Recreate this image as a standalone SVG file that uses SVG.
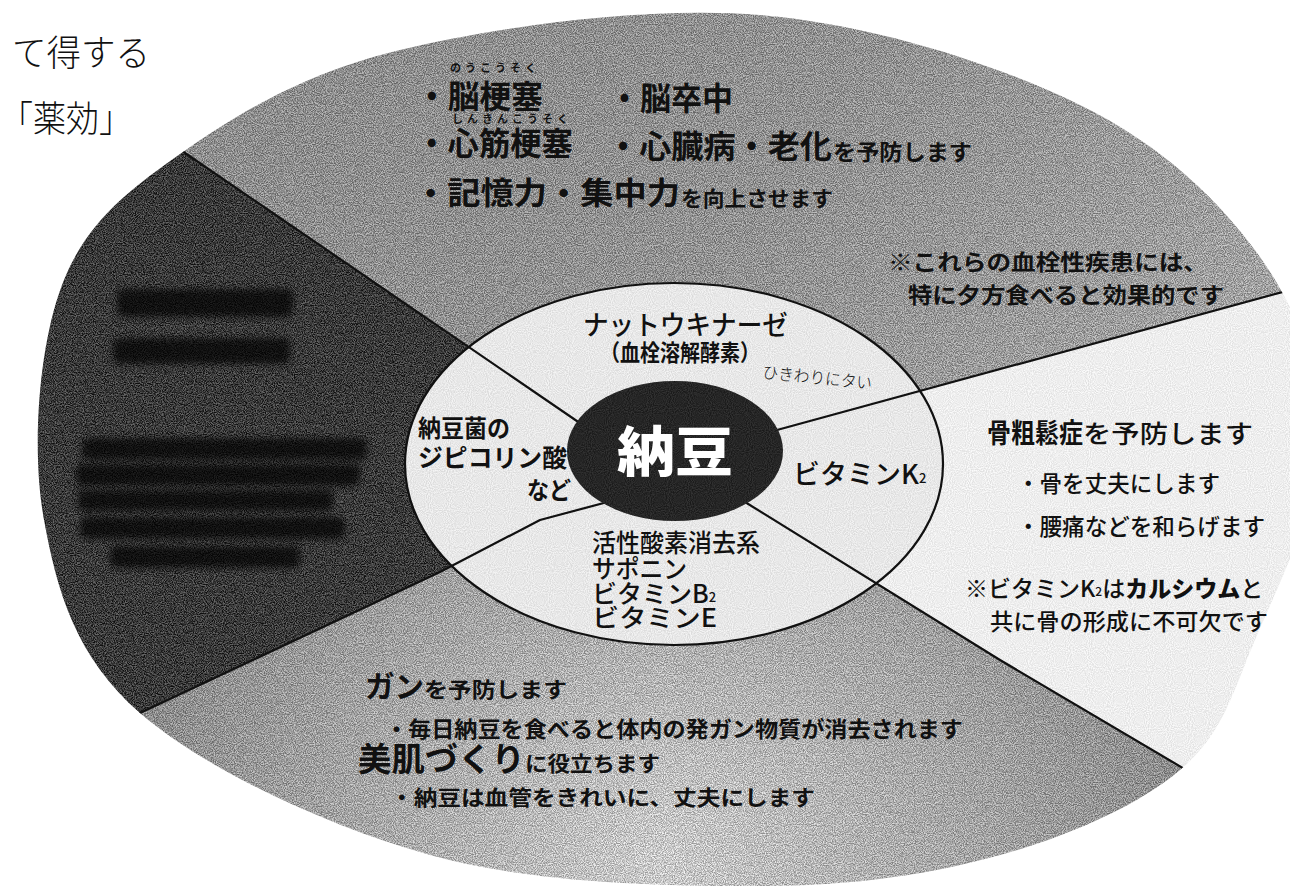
<svg xmlns="http://www.w3.org/2000/svg" width="1290" height="894" viewBox="0 0 1290 894">
<style>
text{font-family:"Noto Sans CJK JP","Noto Sans CJK SC",sans-serif;}
.tb{font-weight:700;fill:#111;}
.tm{font-weight:500;fill:#111;}
.furi{font-weight:700;fill:#111;font-size:11px;letter-spacing:4px;}
.hand{font-weight:300;fill:#111;}
.line{fill:none;stroke:#111;stroke-width:2.2;stroke-linejoin:round;}
.blob{fill:#000;opacity:0.7;filter:url(#soft);}
</style>
<defs>
<path id="outerShape" d="M183,152 C239.3,112.8 303.8,73.3 400,50 C496.2,26.7 646.7,5.8 760,15 C873.3,24.2 996.7,64.2 1080,105 C1163.3,145.8 1220,201.2 1260,257 C1300,312.8 1320.8,376.2 1320,440 C1319.2,503.8 1278.3,585 1255,640 C1231.7,695 1222.5,734.2 1180,770 C1137.5,805.8 1070,835.7 1000,855 C930,874.3 855,886 760,886 C665,886 533.3,883.8 430,855 C326.7,826.2 204.3,768.8 140,713 C75.7,657.2 57,591.3 44,520 C31,448.7 38.8,346.3 62,285 C85.2,223.7 126.7,191.2 183,152 Z"/>
<clipPath id="outer"><use href="#outerShape"/></clipPath>
<filter id="grainS" filterUnits="userSpaceOnUse" x="0" y="0" width="1290" height="894" color-interpolation-filters="sRGB">
<feTurbulence type="fractalNoise" baseFrequency="0.9" numOctaves="2" seed="7" result="n"/>
<feColorMatrix in="n" type="matrix" values="2.5 0 0 0 -0.75 2.5 0 0 0 -0.75 2.5 0 0 0 -0.75 0 0 0 0 0.35" result="g"/>
<feComposite in="g" in2="SourceGraphic" operator="in" result="gm"/>
<feMerge><feMergeNode in="SourceGraphic"/><feMergeNode in="gm"/></feMerge>
</filter>
<filter id="grainL" filterUnits="userSpaceOnUse" x="0" y="0" width="1290" height="894" color-interpolation-filters="sRGB">
<feTurbulence type="fractalNoise" baseFrequency="0.95" numOctaves="1" seed="3" result="n"/>
<feColorMatrix in="n" type="matrix" values="2.5 0 0 0 -0.75 2.5 0 0 0 -0.75 2.5 0 0 0 -0.75 0 0 0 0 0.1" result="g"/>
<feComposite in="g" in2="SourceGraphic" operator="in" result="gm"/>
<feMerge><feMergeNode in="SourceGraphic"/><feMergeNode in="gm"/></feMerge>
</filter>
<filter id="soft" x="-20%" y="-50%" width="140%" height="200%"><feGaussianBlur stdDeviation="3.5"/></filter>
<linearGradient id="gTop" x1="0" y1="0" x2="1" y2="0.3">
<stop offset="0" stop-color="#929292"/><stop offset="0.6" stop-color="#9c9c9c"/><stop offset="1" stop-color="#b4b4b4"/>
</linearGradient>
<radialGradient id="gBot" cx="660" cy="860" r="520" gradientUnits="userSpaceOnUse">
<stop offset="0" stop-color="#f2f2f2"/><stop offset="0.45" stop-color="#c6c6c6"/><stop offset="1" stop-color="#959595"/>
</radialGradient>
</defs>
<rect width="1290" height="894" fill="#fff"/>

<g id="sections" clip-path="url(#outer)">
<g filter="url(#grainS)">
<polygon id="sec-top" fill="url(#gTop)" points="675,451 590,430 150,129 100,95 100,-60 1420,-60 1420,255 1400,260 1290,290 777,430 760,435"/>
<polygon id="sec-left" fill="#151515" points="675,451 590,430 150,129 100,95 -60,-14 -60,840 0,780 140,713 440,572 540,520 615,500"/>
<polygon id="sec-bottom" fill="url(#gBot)" points="675,451 615,500 540,520 440,572 140,713 0,780 -60,840 -60,950 1420,950 1420,912 1400,900 1220,790 1000,660 745,502"/>
</g>
<polygon id="sec-right" filter="url(#grainL)" fill="#fbfbfb" points="675,451 745,502 1000,660 1220,790 1400,900 1420,912 1420,255 1400,260 1290,290 777,430 760,435"/>
</g>

<g id="ring">
<ellipse cx="674" cy="464" rx="269" ry="181" fill="#f4f4f4" filter="url(#grainL)"/>
<ellipse cx="674" cy="464" rx="269" ry="181" fill="none" stroke="#111" stroke-width="2.2"/>
</g>

<g id="connectors" clip-path="url(#outer)">
<polyline class="line" points="100,95 150,129 590,430"/>
<polyline class="line" points="760,435 777,430 1290,290 1400,260"/>
<polyline class="line" points="745,502 1000,660 1220,790 1400,900"/>
<polyline class="line" points="615,500 540,520 440,572 140,713 0,780"/>
</g>

<g id="node-center">
<ellipse cx="675" cy="451" rx="108" ry="70" fill="#1c1c1c" filter="url(#grainL)"/>
<text x="675" y="472" font-size="54" font-weight="900" fill="#fff" text-anchor="middle" textLength="116" lengthAdjust="spacingAndGlyphs">納豆</text>
</g>

<g id="title">
<text class="hand" x="12" y="66" font-size="36" textLength="138" lengthAdjust="spacingAndGlyphs">て得する</text>
<text class="hand" x="0" y="132" font-size="36" textLength="132" lengthAdjust="spacingAndGlyphs">「薬効」</text>
</g>

<g id="node-top">
<text class="furi" x="450" y="72">のうこうそく</text>
<text class="tb" x="416" y="108" font-size="32" textLength="127" lengthAdjust="spacingAndGlyphs">・脳梗塞</text>
<text class="tb" x="609" y="110" font-size="32" textLength="124" lengthAdjust="spacingAndGlyphs">・脳卒中</text>
<text class="furi" x="452" y="123">しんきんこうそく</text>
<text class="tb" x="416" y="155" font-size="32" textLength="157" lengthAdjust="spacingAndGlyphs">・心筋梗塞</text>
<text class="tb" x="607" y="158" font-size="32" textLength="225" lengthAdjust="spacingAndGlyphs">・心臓病・老化</text>
<text class="tb" x="833" y="160" font-size="22" textLength="139" lengthAdjust="spacingAndGlyphs">を予防します</text>
<text class="tb" x="414" y="204" font-size="31" textLength="266" lengthAdjust="spacingAndGlyphs">・記憶力・集中力</text>
<text class="tb" x="681" y="206" font-size="21" textLength="152" lengthAdjust="spacingAndGlyphs">を向上させます</text>
<text class="tb" x="888" y="270" font-size="22" textLength="320" lengthAdjust="spacingAndGlyphs">※これらの血栓性疾患には、</text>
<text class="tb" x="908" y="303" font-size="22" textLength="316" lengthAdjust="spacingAndGlyphs">特に夕方食べると効果的です</text>
</g>

<g id="node-left">
<rect class="blob" x="117" y="289" width="176" height="28" rx="6"/>
<rect class="blob" x="113" y="338" width="177" height="26" rx="6"/>
<rect class="blob" x="82" y="438" width="285" height="22" rx="6"/>
<rect class="blob" x="76" y="464" width="284" height="22" rx="6"/>
<rect class="blob" x="78" y="490" width="255" height="21" rx="6"/>
<rect class="blob" x="80" y="517" width="265" height="22" rx="6"/>
<rect class="blob" x="110" y="546" width="190" height="22" rx="6"/>
</g>

<g id="node-inner-top">
<text class="tm" x="583" y="335" font-size="27" textLength="205" lengthAdjust="spacingAndGlyphs">ナットウキナーゼ</text>
<text class="tb" x="600" y="361" font-size="23" textLength="160" lengthAdjust="spacingAndGlyphs">（血栓溶解酵素）</text>
<text class="hand" x="762" y="378" font-size="17" transform="rotate(6 762 378)" textLength="110" lengthAdjust="spacingAndGlyphs">ひきわりにタい</text>
</g>

<g id="node-inner-left">
<text class="tb" x="418" y="437" font-size="24" textLength="92" lengthAdjust="spacingAndGlyphs">納豆菌の</text>
<text class="tb" x="418" y="467" font-size="25" textLength="149" lengthAdjust="spacingAndGlyphs">ジピコリン酸</text>
<text class="tb" x="527" y="499" font-size="24" textLength="44" lengthAdjust="spacingAndGlyphs">など</text>
</g>

<g id="node-inner-right">
<text class="tm" x="793" y="484" font-size="27">ビタミンK<tspan font-size="13" dy="-1">2</tspan></text>
</g>

<g id="node-inner-bottom">
<text class="tm" x="592" y="552" font-size="25" textLength="168" lengthAdjust="spacingAndGlyphs">活性酸素消去系</text>
<text class="tm" x="592" y="578" font-size="25" textLength="95" lengthAdjust="spacingAndGlyphs">サポニン</text>
<text class="tm" x="592" y="603" font-size="25">ビタミンB<tspan font-size="13" dy="-1">2</tspan></text>
<text class="tm" x="592" y="627" font-size="25" textLength="125" lengthAdjust="spacingAndGlyphs">ビタミンE</text>
</g>

<g id="node-right">
<text class="tb" x="987" y="443" font-size="27" font-weight="900" textLength="96" lengthAdjust="spacingAndGlyphs">骨粗鬆症</text>
<text class="tm" x="1083" y="443" font-size="25" textLength="170" lengthAdjust="spacingAndGlyphs">を予防します</text>
<text class="tm" x="1017" y="492" font-size="23" textLength="203" lengthAdjust="spacingAndGlyphs">・骨を丈夫にします</text>
<text class="tm" x="1017" y="535" font-size="23" textLength="248" lengthAdjust="spacingAndGlyphs">・腰痛などを和らげます</text>
<text class="tm" x="965" y="597" font-size="23">※ビタミンK<tspan font-size="12" dy="-1">2</tspan><tspan dy="1">は</tspan><tspan font-weight="900">カルシウム</tspan>と</text>
<text class="tm" x="990" y="630" font-size="23" textLength="278" lengthAdjust="spacingAndGlyphs">共に骨の形成に不可欠です</text>
</g>

<g id="node-bottom">
<text class="tb" x="365" y="697" font-size="30" font-weight="900" textLength="59" lengthAdjust="spacingAndGlyphs">ガン</text>
<text class="tb" x="424" y="697" font-size="21" textLength="143" lengthAdjust="spacingAndGlyphs">を予防します</text>
<text class="tb" x="385" y="737" font-size="22" textLength="578" lengthAdjust="spacingAndGlyphs">・毎日納豆を食べると体内の発ガン物質が消去されます</text>
<text class="tb" x="358" y="771" font-size="33" font-weight="900" textLength="167" lengthAdjust="spacingAndGlyphs">美肌づくり</text>
<text class="tb" x="525" y="771" font-size="21" textLength="135" lengthAdjust="spacingAndGlyphs">に役立ちます</text>
<text class="tb" x="390" y="805" font-size="21" textLength="425" lengthAdjust="spacingAndGlyphs">・納豆は血管をきれいに、丈夫にします</text>
</g>
</svg>
